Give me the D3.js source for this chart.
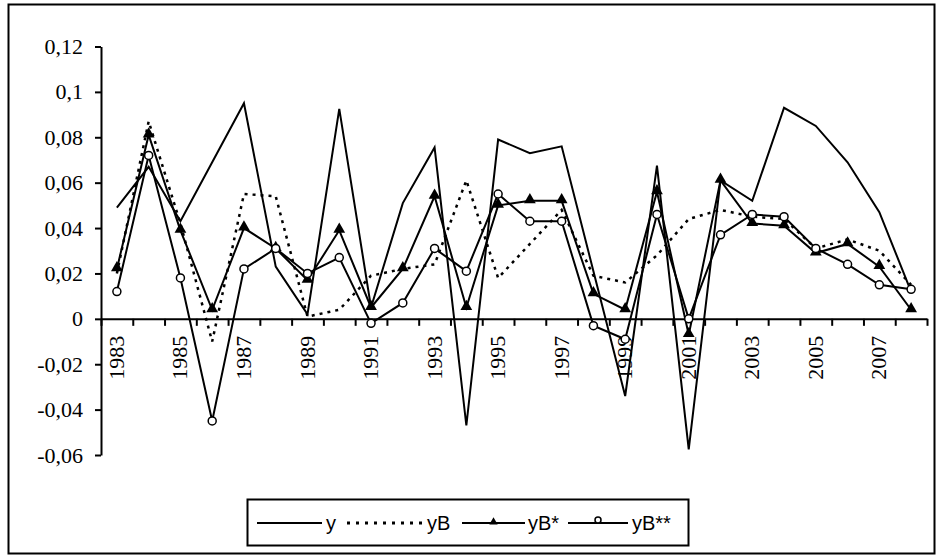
<!DOCTYPE html>
<html>
<head>
<meta charset="utf-8">
<script src="https://cdn.jsdelivr.net/npm/d3@7"></script>
<style>
  body { margin: 0; background: #fff; }
  svg { display: block; }
  .axis path, .axis line { stroke: #000; stroke-width: 2; }
</style>
</head>
<body>
<div id="chart"></div>
<script>
// chart data
var years = ["1983","1984","1985","1986","1987","1988","1989","1990","1991","1992","1993","1994","1995",
  "1996","1997","1998","1999","2000","2001","2002","2003","2004","2005","2006","2007","2008"];

var yVals = [0.049, 0.067, 0.043, 0.069, 0.095, 0.023, 0.002, 0.0925, 0.005, 0.051, 0.0755, -0.047, 0.079,
  0.073, 0.076, 0.021, -0.034, 0.0675, -0.0575, 0.061, 0.052, 0.093, 0.085, 0.069, 0.047, 0.012];

var yBVals = [0.02, 0.087, 0.042, -0.01, 0.055, 0.054, 0.001, 0.004, 0.019, 0.022, 0.024, 0.061, 0.018,
  0.033, 0.048, 0.019, 0.016, 0.028, 0.044, 0.048, 0.045, 0.044, 0.031, 0.035, 0.03, 0.015];

var yBStarVals = [0.022, 0.081, 0.039, 0.004, 0.04, 0.031, 0.017, 0.039, 0.005, 0.022, 0.054, 0.005, 0.05,
  0.052, 0.052, 0.011, 0.004, 0.056, -0.007, 0.061, 0.042, 0.041, 0.029, 0.033, 0.023, 0.004];

var yB2StarVals = [0.012, 0.072, 0.018, -0.045, 0.022, 0.031, 0.02, 0.027, -0.002, 0.007, 0.031, 0.021, 0.055,
  0.043, 0.043, -0.003, -0.009, 0.046, 0.0, 0.037, 0.046, 0.045, 0.031, 0.024, 0.015, 0.013];

var yTicks = [0.12, 0.1, 0.08, 0.06, 0.04, 0.02, 0, -0.02, -0.04, -0.06];
var yTickLabels = ["0,12", "0,1", "0,08", "0,06", "0,04", "0,02", "0", "-0,02", "-0,04", "-0,06"];
var xTickLabels = ["1983","1985","1987","1989","1991","1993","1995","1997","1999","2001","2003","2005","2007"];
var seriesNames = ["y", "yB", "yB*", "yB**"];

var serifFont = "Liberation Serif";
var sansFont = "Liberation Sans";

var svgWidth = 936;
var svgHeight = 556;
var margin = { top: 46.5, right: 9, bottom: 101, left: 101 };
var width = svgWidth - margin.left - margin.right;
var height = svgHeight - margin.top - margin.bottom;

var svg = d3.select("#chart")
  .append("svg")
  .attr("width", svgWidth)
  .attr("height", svgHeight);

// outer frame
svg.append("rect")
  .attr("x", 8.5).attr("y", 4.5)
  .attr("width", 926).attr("height", 549)
  .attr("fill", "none").attr("stroke", "#000").attr("stroke-width", 2);

var chartGroup = svg.append("g")
  .attr("transform", `translate(${margin.left}, ${margin.top})`);

// scales
var xScale = d3.scaleBand().domain(years).range([0, width]).paddingInner(0).paddingOuter(0);
var xEdge = d3.scaleLinear().domain([0, years.length]).range([0, width]);
var yScale = d3.scaleLinear().domain([-0.06, 0.12]).range([height, 0]);
var xc = d => xScale(d) + xScale.bandwidth() / 2;

// y axis
var leftAxis = d3.axisLeft(yScale)
  .tickValues(yTicks)
  .tickSize(6)
  .tickSizeOuter(0)
  .tickPadding(12)
  .tickFormat((d, i) => yTickLabels[i]);
chartGroup.append("g")
  .attr("class", "axis")
  .call(leftAxis)
  .attr("font-family", serifFont)
  .attr("font-size", 22)
  .selectAll("text").attr("fill", "#000");

// x axis at zero, ticks on category borders
var bottomAxis = d3.axisBottom(xEdge)
  .tickValues(d3.range(years.length + 1))
  .tickSize(7)
  .tickSizeOuter(0)
  .tickFormat("");
chartGroup.append("g")
  .attr("class", "axis")
  .attr("transform", `translate(0, ${yScale(0)})`)
  .call(bottomAxis);

chartGroup.selectAll(".xlabel")
  .data(xTickLabels)
  .enter()
  .append("text")
  .attr("class", "xlabel")
  .attr("transform", d => `translate(${xc(d) + 7}, ${yScale(0) + 17}) rotate(-90)`)
  .attr("text-anchor", "end")
  .attr("font-family", serifFont)
  .attr("font-size", 22)
  .text(d => d);

// lines
var line = d3.line()
  .x((d, i) => xc(years[i]))
  .y(d => yScale(d));

chartGroup.append("path").datum(yVals)
  .attr("d", line).attr("fill", "none").attr("stroke", "#000").attr("stroke-width", 2);

chartGroup.append("path").datum(yBVals)
  .attr("d", line).attr("fill", "none").attr("stroke", "#000").attr("stroke-width", 2.5)
  .attr("stroke-dasharray", "3,5");

chartGroup.append("path").datum(yBStarVals)
  .attr("d", line).attr("fill", "none").attr("stroke", "#000").attr("stroke-width", 2);

chartGroup.append("path").datum(yB2StarVals)
  .attr("d", line).attr("fill", "none").attr("stroke", "#000").attr("stroke-width", 2);

// markers
var tri = d3.symbol().type(d3.symbolTriangle).size(60);
chartGroup.selectAll(".tri")
  .data(yBStarVals)
  .enter()
  .append("path")
  .attr("class", "tri")
  .attr("d", tri)
  .attr("transform", (d, i) => `translate(${xc(years[i])}, ${yScale(d) - 1})`)
  .attr("fill", "#000");

chartGroup.selectAll(".circ")
  .data(yB2StarVals)
  .enter()
  .append("circle")
  .attr("class", "circ")
  .attr("cx", (d, i) => xc(years[i]))
  .attr("cy", d => yScale(d))
  .attr("r", 4)
  .attr("fill", "#fff")
  .attr("stroke", "#000")
  .attr("stroke-width", 1.5);

// legend
var legend = svg.append("g");
legend.append("rect")
  .attr("x", 247.5).attr("y", 499.5)
  .attr("width", 441).attr("height", 46)
  .attr("fill", "#fff").attr("stroke", "#000").attr("stroke-width", 2);

var legendItems = [
  { x1: 257, x2: 322, tx: 326, dash: null, marker: null },
  { x1: 347, x2: 425, tx: 427, dash: "3,6", marker: null },
  { x1: 462, x2: 525, tx: 528, dash: null, marker: "tri" },
  { x1: 568, x2: 628, tx: 632, dash: null, marker: "circ" }
];
var ly = 523;
legendItems.forEach(function(it, i) {
  legend.append("line")
    .attr("x1", it.x1).attr("x2", it.x2).attr("y1", ly).attr("y2", ly)
    .attr("stroke", "#000").attr("stroke-width", it.dash ? 3 : 2)
    .attr("stroke-dasharray", it.dash);
  var mx = (it.x1 + it.x2) / 2;
  if (it.marker === "tri") {
    legend.append("path").attr("d", d3.symbol().type(d3.symbolTriangle).size(30))
      .attr("transform", `translate(${mx}, ${ly - 1})`).attr("fill", "#000");
  } else if (it.marker === "circ") {
    legend.append("circle").attr("cx", mx).attr("cy", ly - 3).attr("r", 3)
      .attr("fill", "#fff").attr("stroke", "#000").attr("stroke-width", 1.5);
  }
  legend.append("text")
    .attr("x", it.tx).attr("y", ly)
    .attr("dy", "0.35em")
    .attr("font-family", sansFont)
    .attr("font-size", 20)
    .text(seriesNames[i]);
});
</script>
</body>
</html>
